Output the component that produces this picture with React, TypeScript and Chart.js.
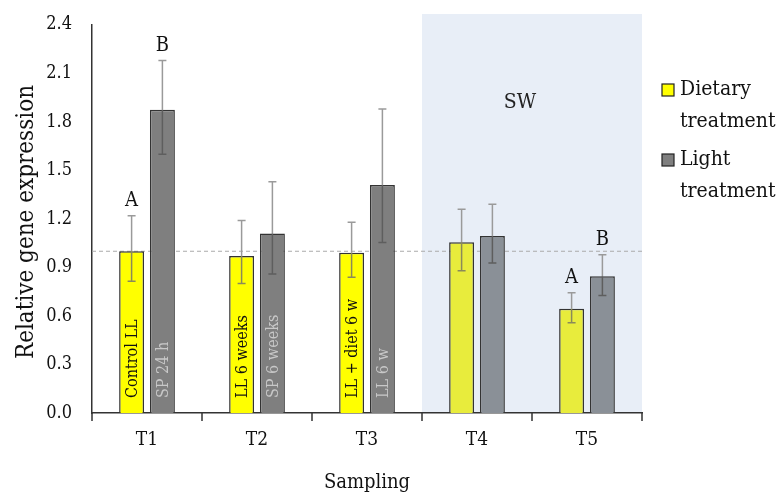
import React, { useEffect, useRef } from "react";
import { Chart, registerables } from "chart.js";
Chart.register(...registerables);

const categories = ["T1", "T2", "T3", "T4", "T5"];
const dietaryValues = [1.0, 0.97, 0.99, 1.055, 0.645];
const dietaryErrLow = [0.815, 0.8, 0.84, 0.88, 0.558];
const dietaryErrHigh = [1.22, 1.19, 1.18, 1.26, 0.743];
const lightValues = [1.875, 1.11, 1.41, 1.095, 0.845];
const lightErrLow = [1.6, 0.86, 1.054, 0.927, 0.726];
const lightErrHigh = [2.18, 1.43, 1.88, 1.29, 0.978];
const dietaryBarLabels = ["Control LL", "LL 6 weeks", "LL + diet 6 w", "", ""];
const lightBarLabels = ["SP 24 h", "SP 6 weeks", "LL 6 w", "", ""];
const dietaryLetters = ["A", "", "", "", "A"];
const lightLetters = ["B", "", "", "", "B"];
const yTicks = [0, 0.3, 0.6, 0.9, 1.2, 1.5, 1.8, 2.1, 2.4];
const referenceLevel = 1.0;
const legendLabels = [["Dietary", "treatment"], ["Light", "treatment"]];

const FONT = "'DejaVu Serif Condensed', 'DejaVu Serif', serif";

export default function App() {
  const ref = useRef<HTMLCanvasElement | null>(null);
  useEffect(() => {
    if (!ref.current) return;
    const dietaryColors = ["#ffff00", "#ffff00", "#ffff00", "#e8ec3c", "#e8ec3c"];
    const lightColors = ["#7f7f7f", "#7f7f7f", "#7f7f7f", "#8a9097", "#8a9097"];

    const overlay = {
      id: "overlay",
      beforeDraw(chart: any) {
        const { ctx, chartArea, scales } = chart;
        const x = scales.x;
        const w = x.getPixelForValue(1) - x.getPixelForValue(0);
        const left = x.getPixelForValue(3) - w / 2;
        ctx.save();
        ctx.fillStyle = "#e8eef7";
        ctx.fillRect(left, 14, chartArea.right - left, chartArea.bottom - 14);
        ctx.font = `21px ${FONT}`;
        ctx.fillStyle = "#222";
        ctx.textAlign = "center";
        ctx.textBaseline = "middle";
        ctx.fillText("SW", 520, 103);
        ctx.restore();
      },
      beforeDatasetsDraw(chart: any) {
        const { ctx, chartArea, scales } = chart;
        const y = scales.y.getPixelForValue(referenceLevel);
        ctx.save();
        ctx.strokeStyle = "#aaaaaa";
        ctx.lineWidth = 1;
        ctx.setLineDash([4, 3]);
        ctx.beginPath();
        ctx.moveTo(chartArea.left, y);
        ctx.lineTo(chartArea.right, y);
        ctx.stroke();
        ctx.restore();
      },
      afterDatasetsDraw(chart: any) {
        const { ctx, scales } = chart;
        const ys = scales.y;
        const errs = [
          [dietaryErrLow, dietaryErrHigh],
          [lightErrLow, lightErrHigh],
        ];
        const labels = [dietaryBarLabels, lightBarLabels];
        const letters = [dietaryLetters, lightLetters];
        const labelColors = ["#111", "#c8c8c8"];
        ctx.save();
        for (let d = 0; d < 2; d++) {
          const meta = chart.getDatasetMeta(d);
          meta.data.forEach((bar: any, i: number) => {
            const x = bar.x;
            const lo = ys.getPixelForValue(errs[d][0][i]);
            const hi = ys.getPixelForValue(errs[d][1][i]);
            const top = bar.y;
            if (labels[d][i]) {
              ctx.save();
              ctx.translate(x + 1, ys.getPixelForValue(0) - 15);
              ctx.rotate(-Math.PI / 2);
              ctx.font = `16px ${FONT}`;
              ctx.fillStyle = labelColors[d];
              ctx.textAlign = "left";
              ctx.textBaseline = "middle";
              ctx.fillText(labels[d][i], 0, 0);
              ctx.restore();
            }
            ctx.lineWidth = 1.5;
            ctx.strokeStyle = "#9a9a9a";
            ctx.beginPath();
            ctx.moveTo(x, top);
            ctx.lineTo(x, hi);
            ctx.moveTo(x - 4, hi);
            ctx.lineTo(x + 4, hi);
            ctx.stroke();
            ctx.strokeStyle = d === 0 ? "#8a8a5a" : "#5e5e5e";
            ctx.beginPath();
            ctx.moveTo(x, top);
            ctx.lineTo(x, lo);
            ctx.moveTo(x - 4, lo);
            ctx.lineTo(x + 4, lo);
            ctx.stroke();
            if (letters[d][i]) {
              ctx.font = `20px ${FONT}`;
              ctx.fillStyle = "#111";
              ctx.textAlign = "center";
              ctx.textBaseline = "bottom";
              ctx.fillText(letters[d][i], x, hi - 5);
            }
          });
        }
        ctx.restore();
      },
      afterDraw(chart: any) {
        const { ctx, chartArea } = chart;
        ctx.save();
        ctx.font = `20px ${FONT}`;
        ctx.fillStyle = "#111";
        ctx.textAlign = "center";
        ctx.textBaseline = "middle";
        ctx.fillText("Sampling", 367, 483);
        ctx.save();
        ctx.translate(27, 222);
        ctx.rotate(-Math.PI / 2);
        ctx.font = `24px ${FONT}`;
        ctx.fillText("Relative gene expression", 0, 0);
        ctx.restore();
        const fills = ["#ffff00", "#7f7f7f"];
        const ys = [90, 160];
        ctx.font = `21px ${FONT}`;
        ctx.textAlign = "left";
        ctx.textBaseline = "middle";
        for (let k = 0; k < 2; k++) {
          ctx.fillStyle = fills[k];
          ctx.fillRect(662, ys[k] - 6, 12, 12);
          ctx.strokeStyle = "#222";
          ctx.lineWidth = 1.2;
          ctx.strokeRect(662, ys[k] - 6, 12, 12);
          ctx.fillStyle = "#111";
          ctx.fillText(legendLabels[k][0], 680, ys[k]);
          ctx.fillText(legendLabels[k][1], 680, ys[k] + 32);
        }
        const xs = chart.scales.x;
        const w = xs.getPixelForValue(1) - xs.getPixelForValue(0);
        ctx.strokeStyle = "#333";
        ctx.lineWidth = 1.5;
        ctx.beginPath();
        for (let i = 0; i <= categories.length; i++) {
          const px = Math.round(xs.getPixelForValue(0) - w / 2 + i * w);
          ctx.moveTo(px, chartArea.bottom);
          ctx.lineTo(px, chartArea.bottom + 8);
        }
        ctx.stroke();
        ctx.restore();
      },
    };

    const chart = new Chart(ref.current, {
      type: "bar",
      data: {
        labels: categories,
        datasets: [
          {
            label: "Dietary treatment",
            data: dietaryValues,
            backgroundColor: dietaryColors,
            borderColor: "#333",
            borderWidth: 1.5,
            categoryPercentage: 0.56,
            barPercentage: 0.81,
          },
          {
            label: "Light treatment",
            data: lightValues,
            backgroundColor: lightColors,
            borderColor: "#333",
            borderWidth: 1.5,
            categoryPercentage: 0.56,
            barPercentage: 0.81,
          },
        ],
      },
      options: {
        animation: false,
        responsive: false,
        devicePixelRatio: 1,
        layout: { padding: { left: 0, right: 138, top: 23, bottom: 0 } },
        plugins: { legend: { display: false }, tooltip: { enabled: false } },
        scales: {
          x: {
            grid: { display: false, drawTicks: false },
            border: { color: "#333", width: 1.5 },
            ticks: { color: "#111", font: { family: FONT, size: 19 }, padding: 16 },
            afterFit: (s: any) => { s.height = 82; },
          },
          y: {
            min: 0,
            max: 2.4,
            afterBuildTicks: (s: any) => { s.ticks = yTicks.map((v) => ({ value: v })); },
            grid: { display: false, drawTicks: true, tickLength: 6, tickColor: "#333", drawOnChartArea: false },
            border: { color: "#333", width: 1.5 },
            ticks: {
              color: "#111",
              font: { family: FONT, size: 18 },
              padding: 14,
              callback: (v: any) => Number(v).toFixed(1),
            },
            afterFit: (s: any) => { s.width = 92; },
          },
        },
      },
      plugins: [overlay],
    });
    return () => chart.destroy();
  }, []);
  return (
    <div style={{ position: "fixed", left: 0, top: 0, width: 780, height: 495, background: "#fff" }}>
      <canvas ref={ref} width={780} height={495} />
    </div>
  );
}
